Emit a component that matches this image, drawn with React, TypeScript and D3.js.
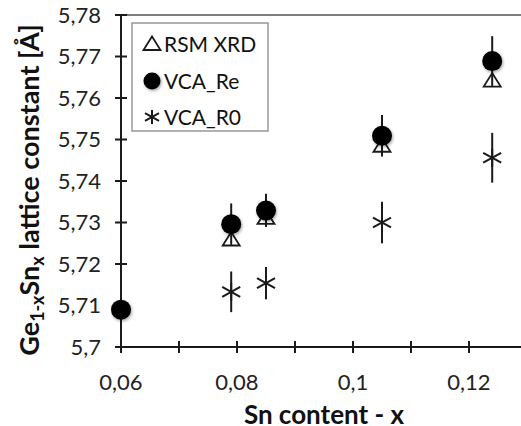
import { useEffect, useRef } from 'react';
import * as d3 from 'd3';

// Sn content (x) for each sample
const snContent = [0.06, 0.079, 0.085, 0.105, 0.124];
// measured lattice constant (RSM XRD), no measurement at x = 0.06
const rsmXrd = [null, 5.7259, 5.7311, 5.7485, 5.7642];
// VCA with relaxed Ge / Sn reference
const vcaRe = [5.709, 5.7296, 5.7329, 5.7509, 5.7689];
const vcaReErr = [0.005, 0.005, 0.004, 0.005, 0.006];
// VCA with R0
const vcaR0 = [null, 5.7133, 5.7154, 5.73, 5.7456];
const vcaR0Err = [null, 0.0049, 0.0039, 0.005, 0.006];

const xTicks = [0.06, 0.07, 0.08, 0.09, 0.1, 0.11, 0.12, 0.13];
const xLabels = ['0,06', '', '0,08', '', '0,1', '', '0,12', ''];
const yTicks = [5.7, 5.71, 5.72, 5.73, 5.74, 5.75, 5.76, 5.77, 5.78];
const yLabels = ['5,7', '5,71', '5,72', '5,73', '5,74', '5,75', '5,76', '5,77', '5,78'];
const legendNames = ['RSM XRD', 'VCA_Re', 'VCA_R0'];

const W = 521;
const H = 426;
const FONT = 'Lato, "Open Sans", sans-serif';
const INK = '#1a1a1a';

const App = () => {
  const svgRef = useRef(null);

  useEffect(() => {
    if (!svgRef.current) return;
    const svg = d3.select(svgRef.current);
    svg.selectAll('*').remove();

    const x = d3.scaleLinear().domain([0.06, 0.13]).range([121, 527]);
    const y = d3.scaleLinear().domain([5.7, 5.78]).range([347, 15]);

    const defs = svg.append('defs');
    const shadow = defs.append('filter').attr('id', 'shadow')
      .attr('x', '-50%').attr('y', '-50%').attr('width', '200%').attr('height', '200%');
    shadow.append('feDropShadow').attr('dx', 1).attr('dy', 1.5)
      .attr('stdDeviation', 1.5).attr('flood-color', '#000').attr('flood-opacity', 0.35);

    // top border of plot area
    svg.append('line')
      .attr('x1', x(0.06)).attr('x2', W).attr('y1', y(5.78)).attr('y2', y(5.78))
      .attr('stroke', '#555').attr('stroke-width', 1.5);

    // y axis
    const gy = svg.append('g').attr('stroke', INK).attr('stroke-width', 2);
    gy.append('line').attr('x1', x(0.06)).attr('x2', x(0.06)).attr('y1', y(5.78)).attr('y2', y(5.7));
    gy.selectAll('.t').data(yTicks).join('line')
      .attr('x1', x(0.06) - 6).attr('x2', x(0.06) + 6)
      .attr('y1', d => y(d)).attr('y2', d => y(d));
    svg.append('g').selectAll('text').data(yTicks).join('text')
      .attr('x', 101).attr('y', d => y(d)).attr('dy', '0.35em')
      .attr('text-anchor', 'end')
      .attr('font-family', FONT).attr('font-size', 22).attr('fill', '#222')
      .text((d, i) => yLabels[i]);

    // x axis
    const gx = svg.append('g').attr('stroke', INK).attr('stroke-width', 2);
    gx.append('line').attr('x1', x(0.06)).attr('x2', W).attr('y1', y(5.7)).attr('y2', y(5.7));
    gx.selectAll('.t').data(xTicks).join('line')
      .attr('x1', d => x(d)).attr('x2', d => x(d))
      .attr('y1', y(5.7) - 6).attr('y2', y(5.7) + 6);
    svg.append('g').selectAll('text').data(xTicks).join('text')
      .attr('x', d => x(d)).attr('y', 382).attr('dy', '0.35em')
      .attr('text-anchor', 'middle')
      .attr('font-family', FONT).attr('font-size', 22).attr('fill', '#222')
      .text((d, i) => xLabels[i]);

    // axis titles
    svg.append('text')
      .attr('x', 324).attr('y', 424)
      .attr('text-anchor', 'middle')
      .attr('font-family', FONT).attr('font-size', 26).attr('font-weight', 'bold').attr('fill', '#111')
      .text('Sn content - x');

    const yt = svg.append('text')
      .attr('transform', 'translate(39,190) rotate(-90)')
      .attr('text-anchor', 'middle')
      .attr('font-family', FONT).attr('font-size', 27).attr('font-weight', 'bold').attr('fill', '#111');
    yt.append('tspan').text('Ge');
    yt.append('tspan').attr('font-size', 18).attr('dy', 5).text('1-x');
    yt.append('tspan').attr('dy', -5).text('Sn');
    yt.append('tspan').attr('font-size', 18).attr('dy', 5).text('x');
    yt.append('tspan').attr('dy', -5).text(' lattice constant [Å]');

    const tri = 'M0,-7.5L8.5,6L-8.5,6Z';
    const drawStar = (g, cx, cy, s) => {
      const p = g.append('g').attr('transform', `translate(${cx},${cy})`)
        .attr('stroke', INK).attr('stroke-width', 2);
      p.append('line').attr('x1', 0).attr('x2', 0).attr('y1', -s).attr('y2', s);
      p.append('line').attr('x1', -s).attr('x2', s).attr('y1', -s * 0.55).attr('y2', s * 0.55);
      p.append('line').attr('x1', -s).attr('x2', s).attr('y1', s * 0.55).attr('y2', -s * 0.55);
    };

    const idx = d3.range(snContent.length);

    // RSM XRD triangles
    svg.append('g').selectAll('path').data(idx.filter(i => rsmXrd[i] != null)).join('path')
      .attr('d', tri)
      .attr('transform', i => `translate(${x(snContent[i])},${y(rsmXrd[i])})`)
      .attr('fill', 'none').attr('stroke', INK).attr('stroke-width', 1.8);

    // VCA_R0 error bars and stars
    const r0 = idx.filter(i => vcaR0[i] != null);
    svg.append('g').attr('stroke', INK).attr('stroke-width', 2)
      .selectAll('line').data(r0).join('line')
      .attr('x1', i => x(snContent[i])).attr('x2', i => x(snContent[i]))
      .attr('y1', i => y(vcaR0[i] + vcaR0Err[i])).attr('y2', i => y(vcaR0[i] - vcaR0Err[i]));
    const starG = svg.append('g');
    r0.forEach(i => drawStar(starG, x(snContent[i]), y(vcaR0[i]), 9));

    // VCA_Re error bars and circles
    svg.append('g').attr('stroke', INK).attr('stroke-width', 2)
      .selectAll('line').data(idx).join('line')
      .attr('x1', i => x(snContent[i])).attr('x2', i => x(snContent[i]))
      .attr('y1', i => y(vcaRe[i] + vcaReErr[i])).attr('y2', i => y(Math.max(5.7, vcaRe[i] - vcaReErr[i])));
    svg.append('g').selectAll('circle').data(idx).join('circle')
      .attr('cx', i => x(snContent[i])).attr('cy', i => y(vcaRe[i]))
      .attr('r', 10).attr('fill', '#000').attr('filter', 'url(#shadow)');

    // legend
    const lg = svg.append('g');
    lg.append('rect').attr('x', 132).attr('y', 23).attr('width', 136).attr('height', 108)
      .attr('fill', '#fff').attr('stroke', '#999').attr('stroke-width', 1.5);
    const rowY = [44, 81, 117];
    legendNames.forEach((name, i) => {
      const cy = rowY[i];
      if (i === 0) {
        lg.append('path').attr('d', tri).attr('transform', `translate(152,${cy})`)
          .attr('fill', 'none').attr('stroke', INK).attr('stroke-width', 1.8);
      } else if (i === 1) {
        lg.append('circle').attr('cx', 152).attr('cy', cy).attr('r', 8.5)
          .attr('fill', '#000').attr('filter', 'url(#shadow)');
      } else {
        drawStar(lg, 152, cy, 7);
      }
      lg.append('text').attr('x', 164).attr('y', cy).attr('dy', '0.36em')
        .attr('font-family', FONT).attr('font-size', 21).attr('fill', '#111')
        .text(name);
    });
  }, []);

  return (
    <div style={{ position: 'fixed', left: 0, top: 0, width: W, height: H, background: '#fff' }}>
      <svg ref={svgRef} width={W} height={H} style={{ display: 'block' }}></svg>
    </div>
  );
};

export default App;
